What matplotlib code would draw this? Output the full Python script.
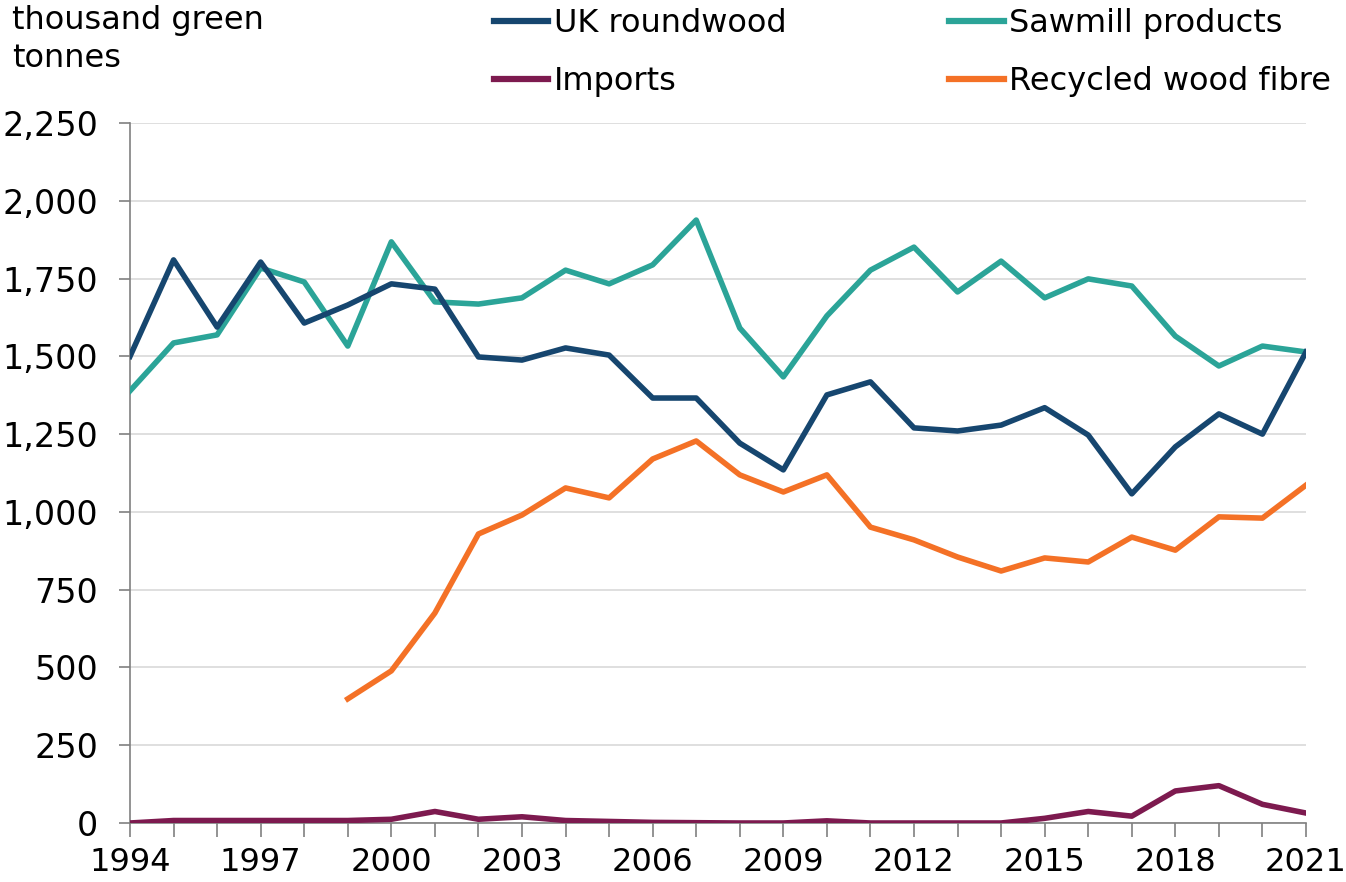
import numpy as np
import matplotlib
matplotlib.use("Agg")
import matplotlib.pyplot as plt
from matplotlib.ticker import FuncFormatter, MultipleLocator
from matplotlib.lines import Line2D

years = list(range(1994, 2022))

uk_roundwood = [1500, 1810, 1594, 1803, 1607, 1665, 1733, 1716, 1498, 1488,
                1527, 1504, 1366, 1366, 1221, 1135, 1376, 1418, 1270, 1260,
                1279, 1335, 1247, 1058, 1209, 1315, 1250, 1514]
sawmill = [1389, 1543, 1569, 1784, 1739, 1533, 1868, 1675, 1668, 1688,
           1777, 1733, 1794, 1938, 1591, 1434, 1630, 1777, 1851, 1707,
           1806, 1688, 1749, 1726, 1565, 1469, 1533, 1514]
recycled_years = list(range(1999, 2022))
recycled = [399, 489, 675, 929, 990, 1077, 1045, 1170, 1228, 1119, 1064, 1119,
            951, 910, 855, 810, 852, 839, 919, 877, 984, 980, 1086]
imports = [0, 8, 8, 8, 8, 8, 12, 37, 12, 20, 8, 5, 2, 1, 0, 0, 7, 0, 0, 0,
           0, 15, 37, 22, 103, 120, 60, 32]

c_uk = "#16466F"
c_saw = "#2BA498"
c_imp = "#7D1A4F"
c_rec = "#F47126"

fig = plt.figure(figsize=(13.46, 8.82), dpi=100)
ax = fig.add_axes([130 / 1346, 1 - 823 / 882, (1306 - 130) / 1346, 700 / 882])

lw = 4.0
ax.plot(years, imports, color=c_imp, lw=lw, zorder=3)
ax.plot(recycled_years, recycled, color=c_rec, lw=lw, zorder=3)
ax.plot(years, sawmill, color=c_saw, lw=lw, zorder=3)
ax.plot(years, uk_roundwood, color=c_uk, lw=lw, zorder=4)

ax.set_xlim(1994, 2021)
ax.set_ylim(0, 2250)
ax.yaxis.set_major_locator(MultipleLocator(250))
ax.yaxis.set_major_formatter(FuncFormatter(lambda v, p: f"{int(v):,}"))
ax.set_xticks(range(1994, 2022, 3))
ax.set_xticks(years, minor=True)
ax.grid(axis="y", color="#D9D9D9", lw=1.2, zorder=0)
ax.set_axisbelow(True)

for s in ["top", "right"]:
    ax.spines[s].set_visible(False)
for s in ["left", "bottom"]:
    ax.spines[s].set_color("#808080")
    ax.spines[s].set_linewidth(1.2)

ax.tick_params(axis="y", which="major", length=8, width=1.2, color="#808080",
               labelsize=24, pad=15)
ax.tick_params(axis="x", which="both", length=10, width=1.2, color="#808080",
               labelsize=23, pad=7)

fig.text(12 / 1346, 1 - 5 / 882, "thousand green\ntonnes", ha="left", va="top",
         fontsize=23, linespacing=1.3)

handles = [Line2D([], [], color=c_uk, lw=lw + 0.5),
           Line2D([], [], color=c_imp, lw=lw + 0.5),
           Line2D([], [], color=c_saw, lw=lw + 0.5),
           Line2D([], [], color=c_rec, lw=lw + 0.5)]
labels = ["UK roundwood", "Imports", "Sawmill products", "Recycled wood fibre"]
fig.legend(handles, labels, ncol=2, loc="upper left",
           bbox_to_anchor=(494 / 1346, 1 - 8 / 882), frameon=False,
           borderaxespad=0, borderpad=0,
           fontsize=23, handlelength=1.7, handletextpad=0.17,
           columnspacing=5.1, labelspacing=0.85)

fig.savefig("out.png", dpi=100)
